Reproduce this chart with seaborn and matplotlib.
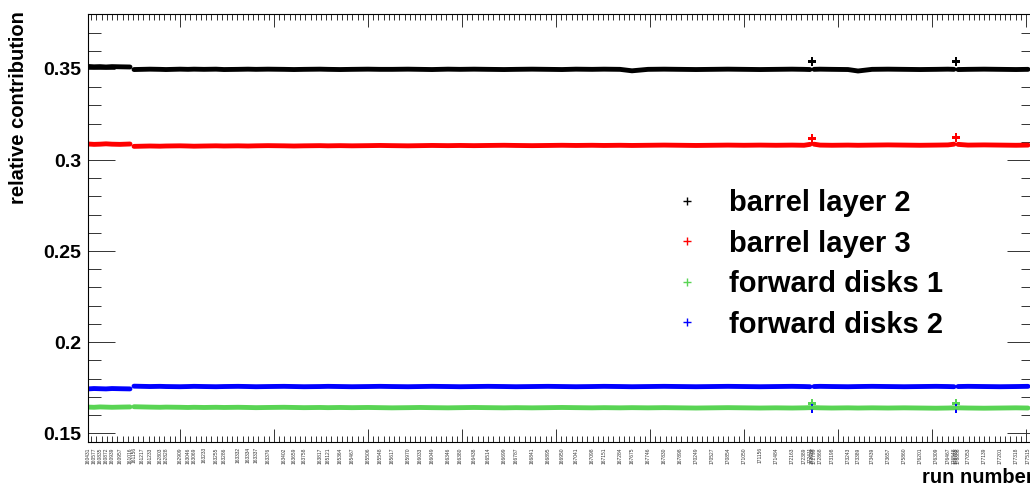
import numpy as np
import pandas as pd
import seaborn as sns
import matplotlib.pyplot as plt
import matplotlib.transforms as mtransforms
from matplotlib.lines import Line2D
from matplotlib.ticker import FixedLocator

# run index along the x axis (one entry per labelled run)
RUNS = [0, 3, 6, 9, 12, 16, 21, 23, 27, 31,
        36, 39, 46, 50, 53, 58, 64, 68, 75, 80,
        84, 90, 98, 103, 108, 116, 120, 126, 132, 140,
        146, 152, 160, 166, 172, 180, 186, 193, 200, 208,
        214, 222, 230, 237, 244, 252, 258, 266, 272, 280,
        288, 296, 304, 312, 320, 328, 336, 344, 352, 358,
        361, 362, 363, 366, 372, 380, 385, 392, 400, 408,
        416, 424, 430, 433, 434, 435, 440, 448, 456, 464,
        470]

RUN_NUMBERS = [160431, 160577, 160835, 160872, 160939, 160957, 161016, 161156, 161217, 161233,
               162803, 162828, 162909, 163046, 163069, 163233, 163255, 163286, 163332, 163334,
               163337, 163376, 163402, 163659, 163758, 163817, 165121, 165364, 165467, 165506,
               165548, 165617, 165970, 166033, 166049, 166346, 166380, 166438, 166514, 166699,
               166787, 166841, 166895, 166950, 167041, 167098, 167151, 167284, 167675, 167746,
               167830, 167898, 170249, 170527, 170854, 171050, 171156, 171484, 172163, 172389,
               172411, 172619, 172799, 172868, 173198, 173243, 173389, 173439, 173657, 175860,
               176201, 176309, 176467, 176548, 176765, 176886, 177053, 177139, 177201, 177318,
               177515]

SPIKE_RUNS = [362, 434]
BREAK_RUNS = [22, 362, 363, 434, 435]

BARREL_2 = [0.3514, 0.3512, 0.3513, 0.3511, 0.3513, 0.3512, 0.3511,
            0.3497, 0.3498, 0.3499, 0.3498, 0.3497, 0.3499, 0.3498, 0.3499, 0.3498, 0.3499,
            0.3497, 0.3498, 0.3499, 0.3498, 0.3499, 0.3498, 0.3497, 0.3498, 0.3499, 0.3498,
            0.3497, 0.3498, 0.3499, 0.3498, 0.3498, 0.3499, 0.3498, 0.3497, 0.3499, 0.3498,
            0.3499, 0.3498, 0.3497, 0.3498, 0.3499, 0.3498, 0.3497, 0.3499, 0.3498, 0.3499,
            0.3498, 0.3490, 0.3498, 0.3499, 0.3498, 0.3497, 0.3498, 0.3499, 0.3498, 0.3497,
            0.3498, 0.3499, 0.3498, 0.3497, 0.3540, 0.3498, 0.3499, 0.3498, 0.3497, 0.3489,
            0.3498, 0.3499, 0.3498, 0.3497, 0.3498, 0.3499, 0.3498, 0.3541, 0.3497, 0.3498,
            0.3499, 0.3498, 0.3497, 0.3498]

BARREL_3 = [0.3088, 0.3086, 0.3087, 0.3089, 0.3087, 0.3086, 0.3088,
            0.3075, 0.3076, 0.3077, 0.3076, 0.3077, 0.3078, 0.3077, 0.3076, 0.3077, 0.3078,
            0.3077, 0.3078, 0.3077, 0.3078, 0.3079, 0.3078, 0.3077, 0.3078, 0.3079, 0.3078,
            0.3079, 0.3078, 0.3079, 0.3080, 0.3079, 0.3078, 0.3079, 0.3080, 0.3079, 0.3080,
            0.3079, 0.3080, 0.3081, 0.3080, 0.3079, 0.3080, 0.3081, 0.3080, 0.3081, 0.3080,
            0.3081, 0.3080, 0.3081, 0.3082, 0.3081, 0.3080, 0.3081, 0.3082, 0.3081, 0.3082,
            0.3081, 0.3082, 0.3081, 0.3086, 0.3120, 0.3087, 0.3082, 0.3081, 0.3082, 0.3081,
            0.3082, 0.3083, 0.3082, 0.3081, 0.3082, 0.3083, 0.3087, 0.3122, 0.3086, 0.3082,
            0.3083, 0.3082, 0.3081, 0.3082]

FORWARD_1 = [0.1643, 0.1642, 0.1644, 0.1643, 0.1642, 0.1643, 0.1644,
             0.1645, 0.1644, 0.1643, 0.1642, 0.1643, 0.1642, 0.1641, 0.1642, 0.1641, 0.1642,
             0.1641, 0.1642, 0.1641, 0.1640, 0.1641, 0.1642, 0.1641, 0.1640, 0.1641, 0.1640,
             0.1641, 0.1640, 0.1641, 0.1640, 0.1639, 0.1640, 0.1641, 0.1640, 0.1639, 0.1640,
             0.1641, 0.1640, 0.1639, 0.1640, 0.1639, 0.1640, 0.1641, 0.1640, 0.1639, 0.1640,
             0.1639, 0.1640, 0.1639, 0.1640, 0.1639, 0.1638, 0.1639, 0.1640, 0.1639, 0.1638,
             0.1639, 0.1638, 0.1639, 0.1640, 0.1664, 0.1640, 0.1639, 0.1638, 0.1639, 0.1638,
             0.1639, 0.1638, 0.1639, 0.1638, 0.1637, 0.1638, 0.1639, 0.1665, 0.1639, 0.1638,
             0.1637, 0.1638, 0.1639, 0.1638]

FORWARD_2 = [0.1743, 0.1745, 0.1744, 0.1743, 0.1745, 0.1744, 0.1743,
             0.1758, 0.1757, 0.1756, 0.1757, 0.1756, 0.1755, 0.1756, 0.1757, 0.1756, 0.1755,
             0.1756, 0.1757, 0.1756, 0.1755, 0.1756, 0.1757, 0.1756, 0.1755, 0.1756, 0.1757,
             0.1756, 0.1755, 0.1756, 0.1757, 0.1756, 0.1755, 0.1756, 0.1757, 0.1756, 0.1755,
             0.1756, 0.1757, 0.1756, 0.1755, 0.1756, 0.1757, 0.1756, 0.1755, 0.1756, 0.1757,
             0.1756, 0.1755, 0.1756, 0.1757, 0.1756, 0.1755, 0.1756, 0.1757, 0.1756, 0.1755,
             0.1756, 0.1757, 0.1756, 0.1755, 0.1636, 0.1756, 0.1757, 0.1756, 0.1755, 0.1756,
             0.1757, 0.1756, 0.1755, 0.1756, 0.1757, 0.1756, 0.1755, 0.1637, 0.1756, 0.1757,
             0.1756, 0.1755, 0.1756, 0.1757]

SERIES = ["barrel layer 2", "barrel layer 3", "forward disks 1", "forward disks 2"]
COLORS = ["#000000", "#ff0000", "#59d454", "#0000ff"]

Y_TICKS = [0.15, 0.2, 0.25, 0.3, 0.35]
Y_TICK_LABELS = ["0.15", "0.2", "0.25", "0.3", "0.35"]

sns.set_theme(style="white")
plt.rcParams["font.family"] = ["Liberation Sans", "DejaVu Sans"]
plt.rcParams["font.weight"] = "bold"
plt.rcParams["text.color"] = "black"
plt.rcParams["ytick.color"] = "black"
plt.rcParams["xtick.color"] = "black"

frames = []
for name, vals in zip(SERIES, [BARREL_2, BARREL_3, FORWARD_1, FORWARD_2]):
    frames.append(pd.DataFrame({"run": RUNS, "value": vals, "series": name}))
df = pd.concat(frames, ignore_index=True)
df["segment"] = np.searchsorted(BREAK_RUNS, df["run"], side="right")
palette = dict(zip(SERIES, COLORS))

fig = plt.figure(figsize=(10.30, 4.87), dpi=100)
ax = fig.add_axes([88 / 1030, 1 - 441.7 / 487, 946 / 1030, (441.7 - 14) / 487])

lines = df[~df["run"].isin(SPIKE_RUNS)]
sns.lineplot(data=lines, x="run", y="value", hue="series", units="segment",
             estimator=None, palette=palette, hue_order=SERIES, lw=3.5,
             legend=False, ax=ax)
spikes = df[df["run"].isin(SPIKE_RUNS)]
sns.scatterplot(data=spikes, x="run", y="value", hue="series", palette=palette,
                hue_order=SERIES, marker="P", s=40, linewidth=0, legend=False, ax=ax)

ax.set_xlim(0, 473)
ax.set_ylim(0.1453, 0.3802)

# frame ticks, all inside, on every side
ax.xaxis.set_major_locator(FixedLocator(np.arange(46, 474, 47)))
ax.xaxis.set_minor_locator(FixedLocator(np.arange(-1, 474, 47 / 18)))
ax.set_yticks(Y_TICKS)
ax.set_yticklabels(Y_TICK_LABELS)
ax.yaxis.set_minor_locator(FixedLocator(np.arange(0.15, 0.381, 0.01)))
ax.tick_params(axis="x", which="major", direction="in", length=9.5, width=0.7,
               color="#333333", top=True, bottom=True, labelbottom=False)
ax.tick_params(axis="x", which="minor", direction="in", length=4.5, width=0.7,
               color="#333333", top=True, bottom=True)
ax.tick_params(axis="y", which="major", direction="in", length=19.5, width=0.7,
               color="#333333", left=True, right=True, labelsize=14, pad=5,
               labelcolor="black")
ax.tick_params(axis="y", which="minor", direction="in", length=9.5, width=0.7,
               color="#333333", left=True, right=True)
for lab in ax.get_yticklabels():
    lab.set_fontweight("bold")
for sp in ax.spines.values():
    sp.set_color("black")
    sp.set_linewidth(0.8)
ax.set_xlabel("")
ax.set_ylabel("")

# tiny vertical run-number labels under the axis
trans = mtransforms.blended_transform_factory(ax.transData, ax.transAxes)
for r, num in zip(RUNS, RUN_NUMBERS):
    ax.text(r, -0.013, str(num), rotation=90, ha="center", va="top", fontsize=3.5,
            fontweight="normal", color="#333333", transform=trans, clip_on=False)

handles = [Line2D([], [], ls="none", marker="+", color=c, ms=6, mew=1) for c in COLORS]
leg = ax.legend(handles, SERIES, loc="upper left", bbox_to_anchor=(672 / 1030, 1 - 189 / 487),
                bbox_transform=fig.transFigure, frameon=False,
                prop={"size": 21, "weight": "bold"}, handlelength=1.0, handletextpad=0.95,
                labelspacing=0.43, borderpad=0, borderaxespad=0)
for t in leg.get_texts():
    t.set_color("black")

fig.text(19 / 1030, 1 - 107.5 / 487, "relative contribution", rotation=90,
         ha="center", va="center", fontsize=14.5, fontweight="bold")
fig.text(922 / 1030, 1 - 483 / 487, "run number", ha="left", va="baseline",
         fontsize=14.5, fontweight="bold")

fig.savefig("out.png", dpi=100)
